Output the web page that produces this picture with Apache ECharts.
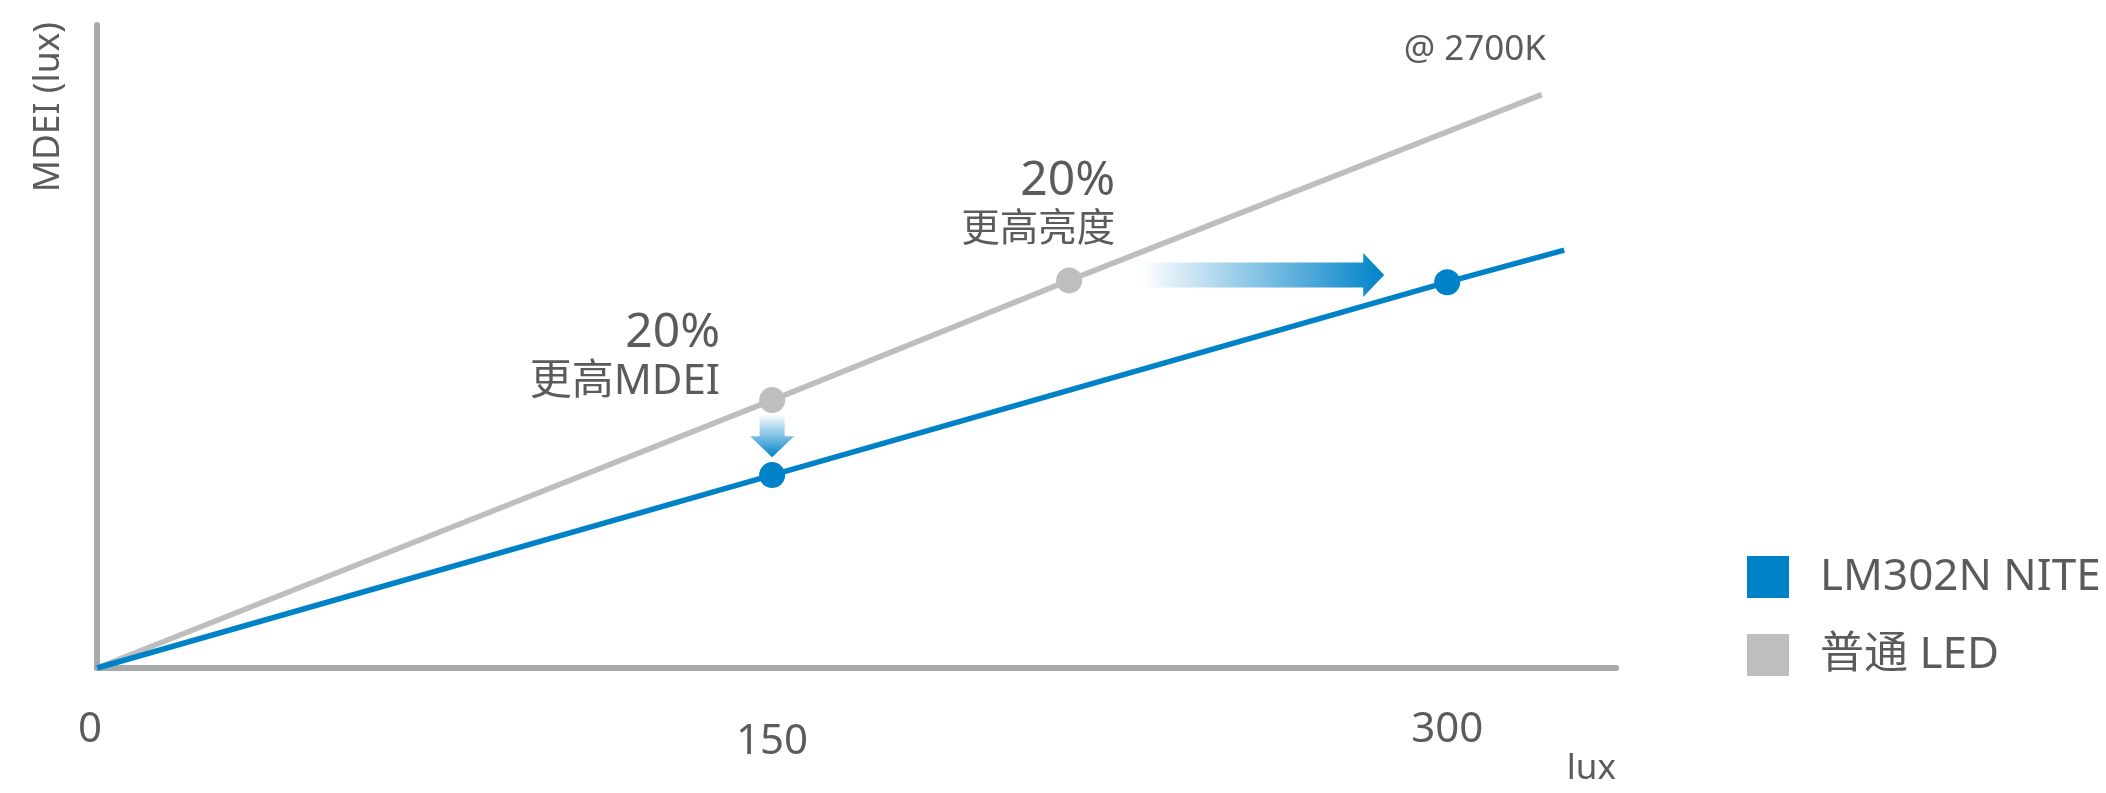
<!DOCTYPE html>
<html><head><meta charset="utf-8">
<script src="https://cdn.jsdelivr.net/npm/echarts@6/dist/echarts.min.js"></script>
<style>html,body{margin:0;padding:0;background:#fff}#c{width:2106px;height:793px}</style>
</head><body><div id="c"></div>
<script>
// ---- data ----
const xTicks = [0, 150, 300];
const seriesNames = ['LM302N NITE', '普通 LED'];
const niteX = [0, 150, 300, 326];
const niteY = [0, 108, 216, 234];
const niteDots = [false, true, true, false];
const ledX = [0, 150, 216, 321];
const ledY = [0, 150, 217, 321];
const ledDots = [false, true, true, false];
// annotation labels attached to 普通 LED points (index into led arrays)
const noteIndex = [1, 2];
const notePct = ['20%', '20%'];
const noteText = ['更高MDEI', '更高亮度'];
// arrows in data coords
const arrowFrom = [[150, 142], [232, 220]];
const arrowTo = [[150, 118], [286, 220]];
const tempNote = '@ 2700K';

// ---- styles ----
const FONT = "'Noto Sans', 'Noto Sans CJK SC', sans-serif";
const TXT = '#5a5b5d';
const BLUE = '#0082c8';
const GREY = '#bdbec0';
const AXIS = '#a8a9ab';

const noteLayout = [
  {position: [-39, 18], tSize: 42},
  {position: [59, -14], tSize: 38.5}
];

function buildData(xs, ys, dots) {
  return xs.map((x, i) => {
    const d = {value: [x, ys[i]]};
    if (!dots[i]) d.symbolSize = 0;
    return d;
  });
}
const ledData = buildData(ledX, ledY, ledDots);
noteIndex.forEach((idx, k) => {
  ledData[idx].label = {
    show: true,
    position: noteLayout[k].position,
    align: 'right',
    verticalAlign: 'bottom',
    formatter: '{p|' + notePct[k] + '}\n{t|' + noteText[k] + '}',
    rich: {
      p: {fontSize: 48, lineHeight: 52, color: TXT, fontFamily: FONT, align: 'right'},
      t: {fontSize: noteLayout[k].tSize, lineHeight: 46, color: TXT, fontFamily: FONT, align: 'right'}
    }
  };
});

const chart = echarts.init(document.getElementById('c'), null, {renderer: 'canvas'});
chart.setOption({
  animation: false,
  backgroundColor: '#fff',
  title: {
    text: tempNote, right: 555, top: 28,
    textStyle: {fontFamily: FONT, fontSize: 35, fontWeight: 'normal', color: TXT}
  },
  legend: {
    orient: 'vertical', left: 1747, top: 555, padding: 0,
    itemWidth: 42, itemHeight: 42, itemGap: 34,
    icon: 'rect',
    data: seriesNames,
    itemStyle: {borderWidth: 0},
    textStyle: {fontFamily: FONT, fontSize: 44, color: TXT, padding: [0, 0, 0, 26]}
  },
  grid: {left: 97, top: 25, right: 490, bottom: 125, containLabel: false},
  xAxis: {
    type: 'value', min: 0, max: 337.5, interval: 150, offset: 3,
    name: 'lux', nameLocation: 'end', nameGap: 0,
    nameTextStyle: {fontFamily: FONT, fontSize: 35, color: TXT, align: 'right', verticalAlign: 'top', padding: [84, 0, 0, 0]},
    axisLine: {show: true, lineStyle: {color: AXIS, width: 6}},
    axisTick: {show: false},
    splitLine: {show: false},
    axisLabel: {
      customValues: xTicks,
      margin: 38,
      formatter: v => v === 0 ? '{z|0}' : (v === 150 ? '{m|150}' : '{n|' + v + '}'),
      rich: {
        z: {fontFamily: FONT, fontSize: 42, color: TXT, padding: [0, 14, 0, 0]},
        m: {fontFamily: FONT, fontSize: 42, color: TXT, padding: [12, 0, 0, 0]},
        n: {fontFamily: FONT, fontSize: 42, color: TXT}
      }
    }
  },
  yAxis: {
    type: 'value', min: 0, max: 360, offset: 3,
    name: 'MDEI (lux)', nameLocation: 'end', nameRotate: 90, nameGap: 3,
    nameTextStyle: {fontFamily: FONT, fontSize: 35.5, color: TXT, align: 'right', verticalAlign: 'bottom', padding: [0, 0, 30, 0]},
    axisLine: {show: true, lineStyle: {color: AXIS, width: 6}},
    axisTick: {show: false},
    axisLabel: {show: false},
    splitLine: {show: false}
  },
  series: [
    {
      name: seriesNames[1], type: 'line', data: ledData,
      symbol: 'circle', symbolSize: 26, showSymbol: true,
      color: GREY,
      lineStyle: {color: GREY, width: 5.5},
      itemStyle: {color: GREY},
      z: 2
    },
    {
      name: seriesNames[0], type: 'line', data: buildData(niteX, niteY, niteDots),
      symbol: 'circle', symbolSize: 26, showSymbol: true,
      color: BLUE,
      lineStyle: {color: BLUE, width: 5.5},
      itemStyle: {color: BLUE},
      z: 3
    },
    {
      type: 'custom', name: 'arrows', z: 4,
      data: arrowFrom.map((f, i) => [f[0], f[1], arrowTo[i][0], arrowTo[i][1]]),
      encode: {x: [0, 2], y: [1, 3]},
      renderItem: (params, api) => {
        const p0 = api.coord([api.value(0), api.value(1)]);
        const p1 = api.coord([api.value(2), api.value(3)]);
        const dx = p1[0] - p0[0], dy = p1[1] - p0[1];
        const len = Math.sqrt(dx * dx + dy * dy);
        const ux = dx / len, uy = dy / len;
        const nx = -uy, ny = ux;
        const sw = 12.5, hw = 22, hl = 21;
        const bx = p1[0] - ux * hl, by = p1[1] - uy * hl;
        const pts = [
          [p0[0] + nx * sw, p0[1] + ny * sw],
          [bx + nx * sw, by + ny * sw],
          [bx + nx * hw, by + ny * hw],
          [p1[0], p1[1]],
          [bx - nx * hw, by - ny * hw],
          [bx - nx * sw, by - ny * sw],
          [p0[0] - nx * sw, p0[1] - ny * sw]
        ];
        return {
          type: 'polygon',
          shape: {points: pts},
          style: {
            fill: new echarts.graphic.LinearGradient(p0[0], p0[1], p1[0], p1[1], [
              {offset: 0, color: 'rgba(0,130,200,0)'},
              {offset: 1, color: BLUE}
            ], true)
          }
        };
      }
    }
  ]
});
</script></body></html>
